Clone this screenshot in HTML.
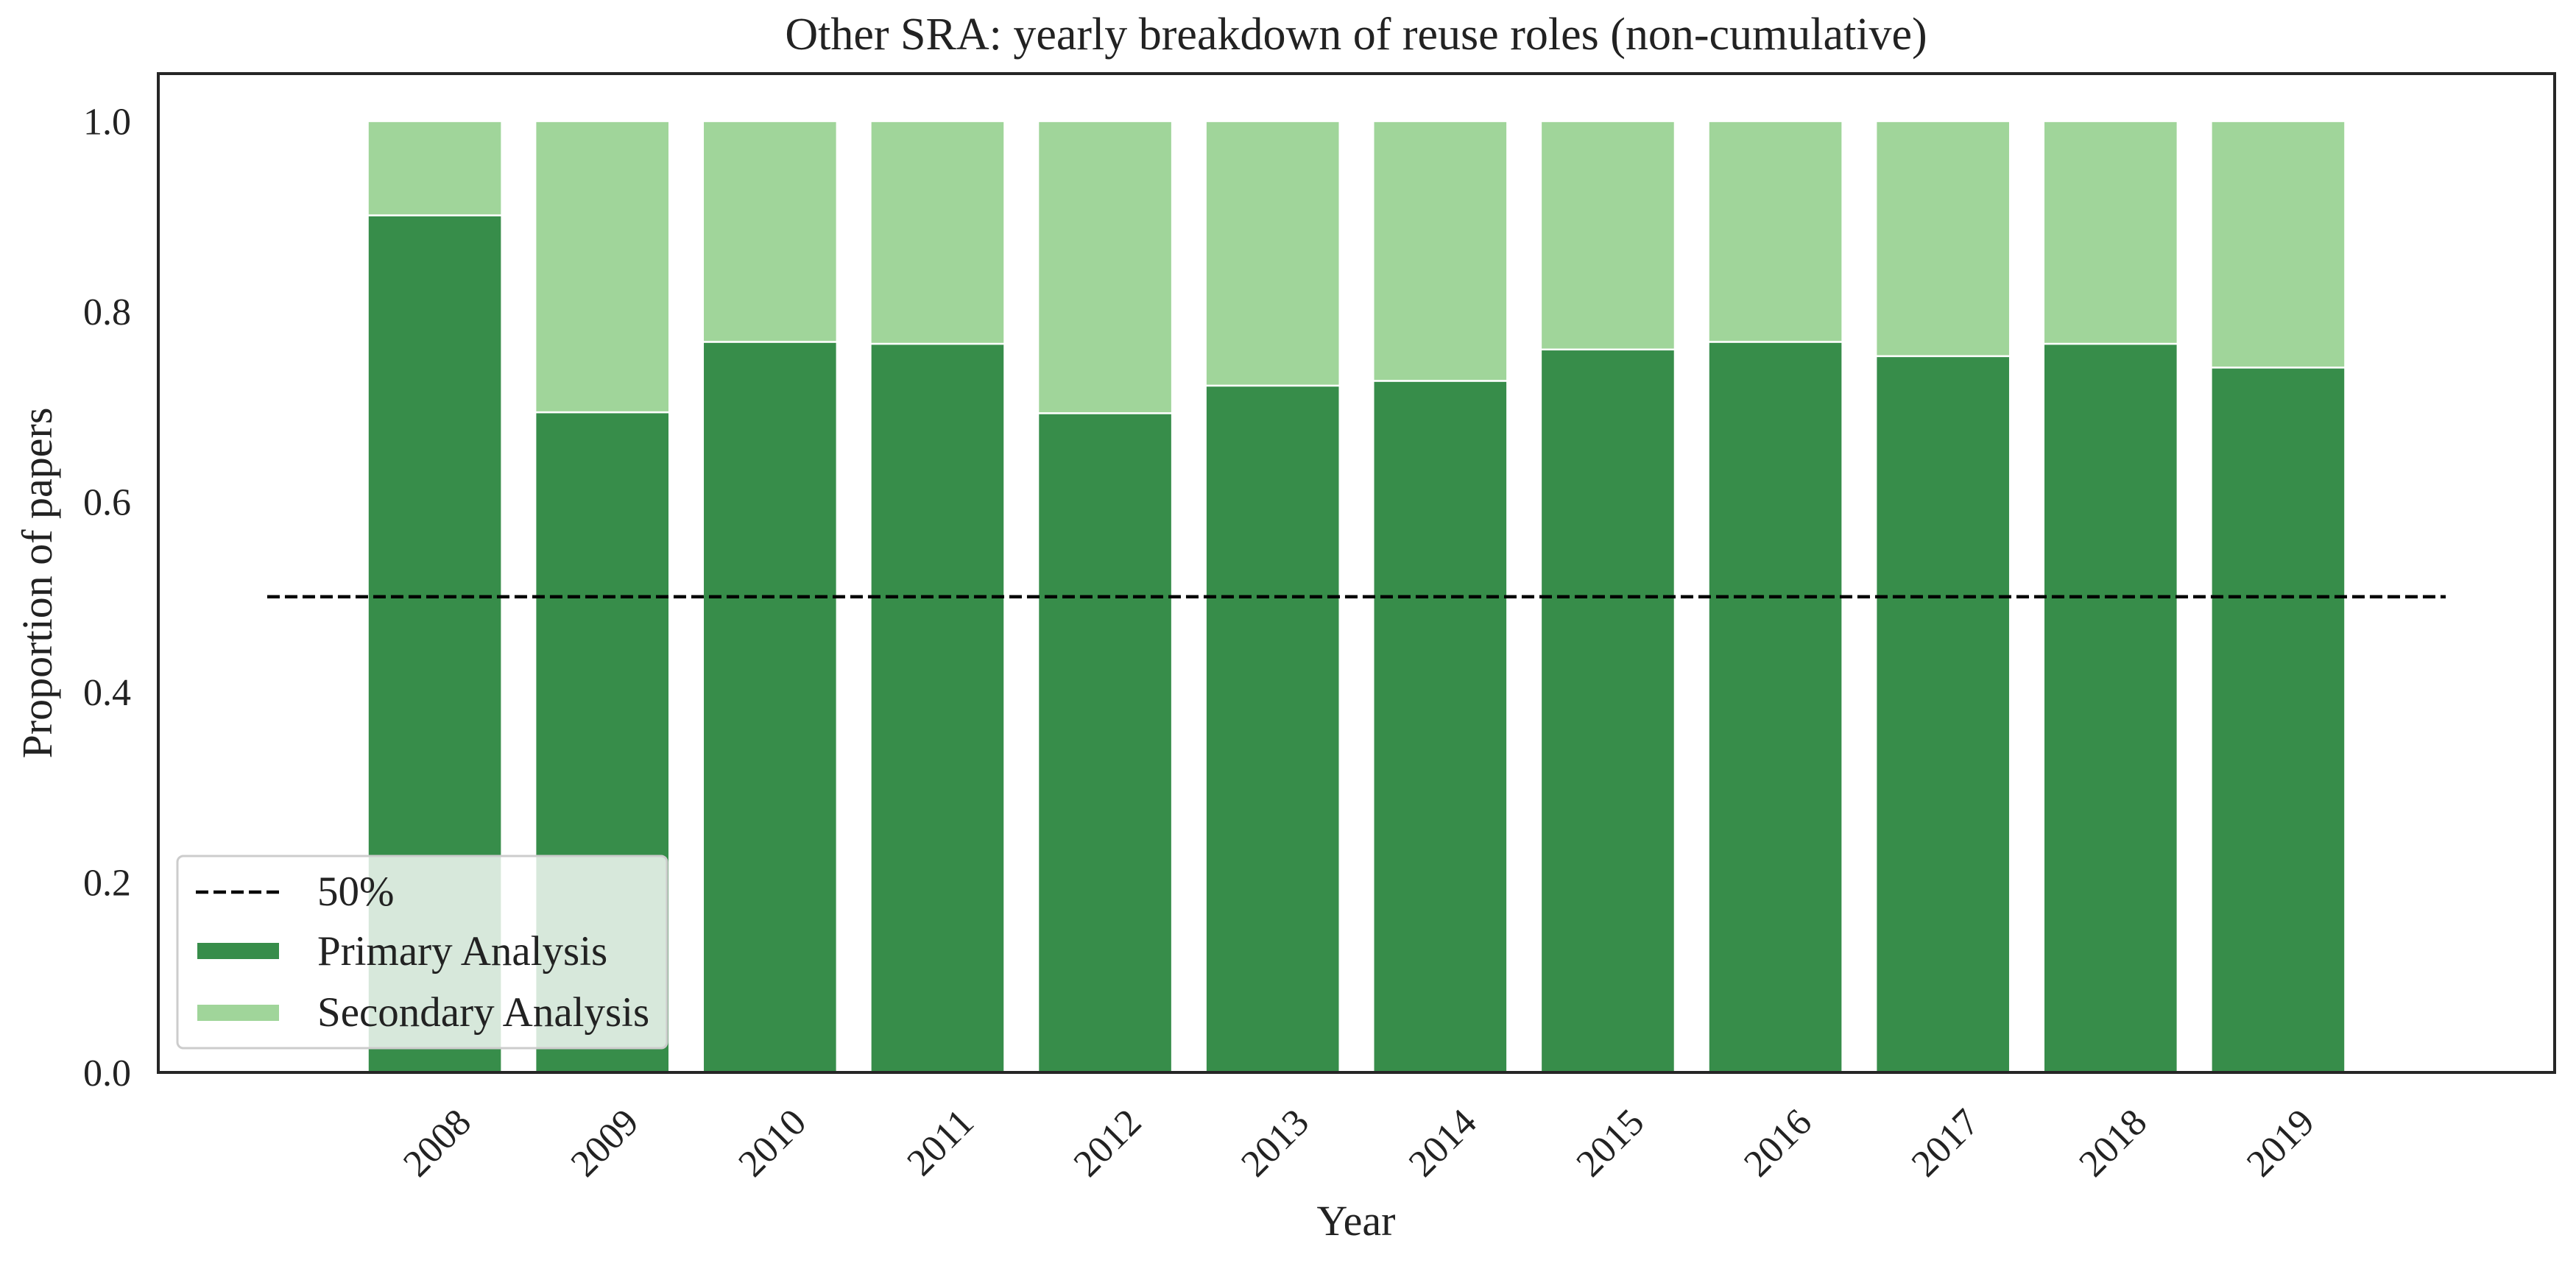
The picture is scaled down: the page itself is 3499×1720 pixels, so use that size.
<!DOCTYPE html>
<html><head><meta charset="utf-8"><style>
html,body{margin:0;padding:0;background:#fff;}
svg{display:block;font-family:"Liberation Serif","DejaVu Serif",serif;}
</style></head><body>
<svg id="chart" width="3499" height="1720" viewBox="0 0 3499 1720">
<text x="1842" y="67" font-size="62" text-anchor="middle" fill="#222">Other SRA: yearly breakdown of reuse roles (non-cumulative)</text>
<g id="plot"></g>
<rect x="215" y="100" width="3255" height="1357" fill="none" stroke="#262626" stroke-width="4"/>
<text transform="translate(70,792) rotate(-90)" font-size="58" text-anchor="middle" fill="#222">Proportion of papers</text>
<text x="1842" y="1678" font-size="58" text-anchor="middle" fill="#222">Year</text>
<g>
<rect x="241" y="1163" width="665" height="261" rx="8" fill="#ffffff" fill-opacity="0.8" stroke="#cccccc" stroke-width="3"/>
<line x1="266" y1="1212" x2="380" y2="1212" stroke="#000" stroke-width="4.5" stroke-dasharray="17,7"/>
<text x="431" y="1230" font-size="57" fill="#222">50%</text>
<rect x="268" y="1281" width="111" height="22" fill="#378d4a"/>
<text x="431" y="1311" font-size="57" fill="#222">Primary Analysis</text>
<rect x="268" y="1365" width="111" height="22" fill="#a0d59a"/>
<text x="431" y="1394" font-size="57" fill="#222">Secondary Analysis</text>
</g>
</svg>
<script>
const years = ['2008','2009','2010','2011','2012','2013','2014','2015','2016','2017','2018','2019'];
const primary = [0.901,0.694,0.768,0.766,0.693,0.722,0.727,0.760,0.768,0.753,0.766,0.741];
const secondary = [0.099,0.306,0.232,0.234,0.307,0.278,0.273,0.240,0.232,0.247,0.234,0.259];
const yTicks = ['0.0','0.2','0.4','0.6','0.8','1.0'];
const refLine = 0.5;

const NS='http://www.w3.org/2000/svg';
const L=215,R=3470,T=100,B=1457;
const xMin=-1.65,xMax=12.65,yMin=0,yMax=1.05;
const xs=i=>L+(i-xMin)/(xMax-xMin)*(R-L);
const ys=v=>B-(v-yMin)/(yMax-yMin)*(B-T);
const g=document.getElementById('plot');
const svg=document.getElementById('chart');
function mk(t,a,p){const e=document.createElementNS(NS,t);for(const k in a)e.setAttribute(k,a[k]);(p||g).appendChild(e);return e;}
const bw=(xs(0.8)-xs(0));
years.forEach((y,i)=>{
  const x=xs(i)-bw/2;
  const p=mk('rect',{x:x,y:ys(primary[i]),width:bw,height:ys(0)-ys(primary[i]),fill:'#378d4a',stroke:'#fff','stroke-width':2.5});
  
  
  const top=primary[i]+secondary[i];
  const s=mk('rect',{x:x,y:ys(top),width:bw,height:ys(primary[i])-ys(top),fill:'#a0d59a',stroke:'#fff','stroke-width':2.5});
  
  
  const ex=xs(i)+52,ey=1528;
  const t=mk('text',{x:ex,y:ey,'font-size':52,'text-anchor':'end',fill:'#222',transform:'rotate(-45 '+ex+' '+ey+')'},svg);
  t.textContent=y;
  
  
});
const ln=mk('line',{x1:xs(-1),x2:xs(12),y1:ys(refLine),y2:ys(refLine),stroke:'#000','stroke-width':4.5,'stroke-dasharray':'17,7'});


yTicks.forEach(l=>{
  const t=mk('text',{x:178,y:ys(parseFloat(l))+18,'font-size':52,'text-anchor':'end',fill:'#222'},svg);
  t.textContent=l;
  
  
});
</script>
</body></html>
